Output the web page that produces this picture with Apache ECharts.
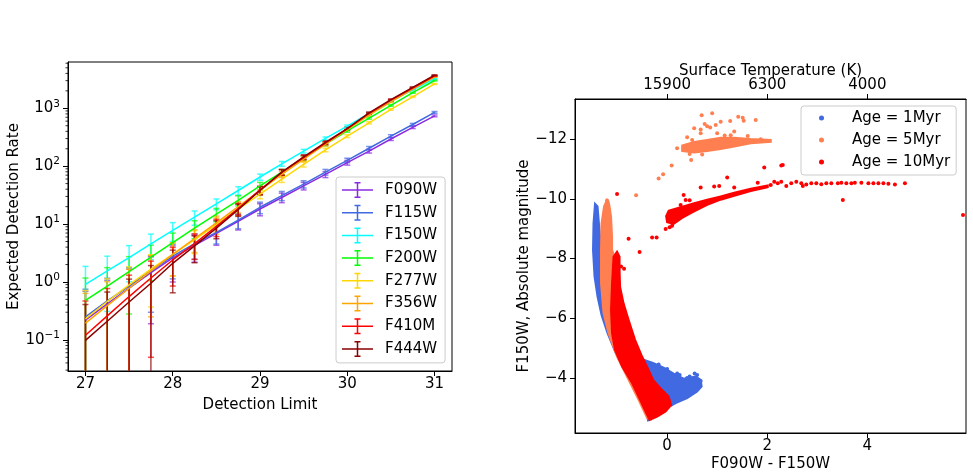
<!DOCTYPE html>
<html>
<head>
<meta charset="utf-8">
<script src="https://cdn.jsdelivr.net/npm/echarts@6/dist/echarts.min.js"></script>
<style>
  html, body { margin: 0; padding: 0; background: #fff; }
  #chart { width: 973px; height: 476px; }
</style>
</head>
<body>
<div id="chart"></div>
<script>
// ---------- left panel: detection rate vs detection limit ----------
const detectionLimits = [27, 27.25, 27.5, 27.75, 28, 28.25, 28.5, 28.75, 29, 29.25, 29.5, 29.75, 30, 30.25, 30.5, 30.75, 31];
const filterNames = ['F090W', 'F115W', 'F150W', 'F200W', 'F277W', 'F356W', 'F410M', 'F444W'];
const filterColors = ['#8a2be2', '#4169e1', '#00ffff', '#00ff00', '#ffd700', '#ffa500', '#ff0000', '#8b0000'];

// mean rate per filter
const meanF090W = [0.22, 0.42, 0.78, 1.45, 2.6, 4.3, 6.9, 11.2, 18.2, 28.8, 45.7, 72, 115, 182, 295, 468, 740];
const meanF115W = [0.25, 0.47, 0.85, 1.55, 2.8, 4.6, 7.2, 11.7, 19.5, 31, 49, 79, 126, 204, 331, 525, 850];
const meanF150W = [0.91, 1.55, 2.63, 4.57, 7.8, 13.2, 22.4, 38, 65, 110, 182, 302, 490, 813, 1320, 2090, 3240];
const meanF200W = [0.48, 0.85, 1.51, 2.69, 4.8, 8.5, 14.8, 25.7, 45.7, 79, 138, 240, 407, 676, 1120, 1860, 3020];
const meanF277W = [0.23, 0.46, 0.89, 1.66, 3.0, 5.4, 9.8, 18.2, 33, 60, 107, 191, 331, 562, 955, 1580, 2630];
const meanF356W = [0.195, 0.39, 0.78, 1.55, 3.0, 5.6, 10.5, 20, 38, 72, 132, 240, 427, 759, 1290, 2140, 3470];
const meanF410M = [0.12, 0.26, 0.56, 1.17, 2.4, 4.6, 9.1, 18.6, 39, 78, 141, 251, 447, 813, 1380, 2240, 3630];
const meanF444W = [0.098, 0.21, 0.45, 0.95, 2.1, 4.2, 8.5, 17.8, 38, 79, 145, 257, 447, 832, 1410, 2290, 3720];

// error (+/-) per filter
const errF090W = [0.47, 0.65, 0.88, 1.26, 1.6, 2.1, 2.6, 3.3, 4.3, 5.4, 6.8, 8.5, 10.7, 13.5, 17.2, 21.6, 27.2];
const errF115W = [0.5, 0.69, 0.92, 1.25, 1.67, 2.14, 2.68, 3.42, 4.4, 5.6, 7.0, 8.9, 11.2, 14.3, 18.2, 22.9, 29.2];
const errF150W = [0.95, 1.24, 1.62, 2.14, 2.79, 3.63, 4.73, 6.2, 8.1, 10.5, 13.5, 17.4, 22.1, 28.5, 36.3, 45.7, 56.9];
const errF200W = [0.69, 0.92, 1.23, 1.64, 2.19, 2.92, 3.85, 5.07, 6.76, 8.9, 11.7, 15.5, 20.2, 26.0, 33.5, 43.1, 55.0];
const errF277W = [0.48, 0.68, 0.94, 1.29, 1.73, 2.32, 3.13, 4.27, 5.74, 7.75, 10.3, 13.8, 18.2, 23.7, 30.9, 39.7, 51.3];
const errF356W = [0.44, 0.62, 0.88, 1.3, 1.73, 2.37, 3.24, 4.47, 6.16, 8.49, 11.5, 15.5, 20.7, 27.5, 35.9, 46.3, 58.9];
const errF410M = [0.35, 0.51, 0.75, 1.12, 1.55, 2.14, 3.02, 4.31, 6.24, 8.83, 11.9, 15.8, 21.1, 28.5, 37.1, 47.3, 60.2];
const errF444W = [0.31, 0.46, 0.67, 0.97, 1.45, 2.05, 2.92, 4.22, 6.16, 8.89, 12.0, 16.0, 21.1, 28.8, 37.5, 47.9, 61.0];

const filterMeans = [meanF090W, meanF115W, meanF150W, meanF200W, meanF277W, meanF356W, meanF410M, meanF444W];
const filterErrs = [errF090W, errF115W, errF150W, errF200W, errF277W, errF356W, errF410M, errF444W];

// ---------- right panel: colour-magnitude diagram ----------
const ageNames = ['Age = 1Myr', 'Age = 5Myr', 'Age = 10Myr'];
const ageColors = ['#4169e1', '#ff7f50', '#ff0000'];

// dense regions, outlined as [colour, magnitude]
const age1Band = [[-1.44, -9.83], [-1.47, -9.18], [-1.48, -8.29], [-1.45, -7.40], [-1.39, -6.73], [-1.31, -6.11],
  [-1.19, -5.50], [-1.04, -4.89], [-0.86, -4.27], [-0.67, -3.72], [-0.50, -3.16], [-0.40, -2.71], [-0.38, -2.58],
  [0.0, -3.00], [0.17, -3.16], [0.40, -3.33], [0.60, -3.55], [0.69, -3.72], [0.67, -3.94], [0.57, -4.05],
  [0.33, -3.98], [0.13, -4.15], [-0.07, -4.35], [-0.27, -4.50], [-0.47, -4.61], [-0.80, -5.17], [-1.07, -6.28],
  [-1.20, -7.40], [-1.34, -8.73], [-1.39, -9.74]];
const age5Band = [[-1.20, -9.96], [-1.26, -9.74], [-1.31, -9.18], [-1.32, -8.29], [-1.32, -7.17], [-1.27, -6.17],
  [-1.17, -5.50], [-1.00, -4.72], [-0.77, -3.94], [-0.57, -3.27], [-0.40, -2.66], [-0.33, -2.62], [-0.45, -3.27],
  [-0.60, -3.83], [-0.80, -4.72], [-1.00, -5.50], [-1.05, -6.28], [-1.06, -7.17], [-1.06, -8.10], [-1.10, -8.29],
  [-1.10, -8.73], [-1.12, -9.40], [-1.15, -9.74], [-1.17, -9.90]];
const age5Clump = [[0.30, -11.60], [0.54, -11.55], [0.80, -11.60], [1.07, -11.67], [1.34, -11.75], [1.67, -11.86],
  [2.07, -11.91], [2.07, -11.97], [1.67, -12.00], [1.34, -12.04], [1.07, -12.04], [0.80, -11.97], [0.54, -11.90],
  [0.30, -11.78]];
const age10Band = [[-1.00, -8.23], [-1.07, -8.06], [-1.10, -7.17], [-1.12, -6.28], [-1.10, -5.50], [-1.04, -4.94],
  [-0.90, -4.39], [-0.70, -3.83], [-0.54, -3.27], [-0.40, -2.77], [-0.35, -2.60], [-0.20, -2.71], [-0.03, -2.88],
  [0.08, -3.10], [0.03, -3.38], [-0.13, -3.65], [-0.28, -3.94], [-0.37, -4.27], [-0.50, -4.72], [-0.64, -5.28],
  [-0.77, -5.95], [-0.87, -6.50], [-0.94, -7.06], [-0.95, -7.62], [-0.95, -8.06]];
const age10Branch = [[0.03, -9.60], [0.27, -9.72], [0.54, -9.85], [0.80, -9.97], [1.07, -10.08], [1.34, -10.20],
  [1.67, -10.34], [2.01, -10.45], [2.01, -10.39], [1.67, -10.26], [1.34, -10.10], [1.07, -9.97], [0.80, -9.80],
  [0.54, -9.58], [0.30, -9.36], [0.13, -9.16], [0.0, -9.22], [-0.02, -9.42]];

// sparse stars
const age1Points = [[-0.27, -4.40], [-0.17, -4.45], [0.0, -4.30], [0.20, -4.15], [0.40, -4.00], [0.60, -4.10],
  [0.67, -3.90], [0.50, -3.55], [0.65, -3.75], [0.12, -3.90], [0.30, -3.90], [-0.35, -4.50], [0.45, -4.05],
  [0.25, -4.10], [0.55, -4.15]];
const age5Points = [[0.69, -12.80], [0.90, -12.86], [1.07, -12.58], [1.26, -12.60], [1.42, -12.75], [1.51, -12.71],
  [1.53, -12.61], [1.77, -12.64], [0.54, -12.36], [0.67, -12.32], [0.80, -12.43], [0.86, -12.39], [0.97, -12.47],
  [0.75, -12.50], [0.50, -11.97], [0.33, -11.67], [0.48, -11.30], [0.09, -11.11], [-0.08, -10.82], [-0.17, -10.68],
  [-0.62, -10.12], [-1.20, -9.94], [0.20, -11.69], [1.27, -12.13], [1.61, -12.10], [1.87, -11.99], [0.40, -12.06],
  [0.67, -12.19], [1.00, -12.19], [1.34, -12.25], [0.45, -11.50], [0.70, -11.48], [1.15, -12.12]];
const age10Points = [[2.21, -10.52], [2.28, -10.57], [2.38, -10.43], [2.48, -10.52], [2.58, -10.57], [2.68, -10.52],
  [2.71, -10.43], [2.78, -10.48], [2.88, -10.52], [2.98, -10.52], [3.08, -10.49], [3.18, -10.52], [3.28, -10.52],
  [3.41, -10.52], [3.48, -10.54], [3.58, -10.52], [3.68, -10.52], [3.75, -10.54], [3.88, -10.54], [4.02, -10.52],
  [4.12, -10.52], [4.22, -10.52], [4.32, -10.52], [4.42, -10.50], [4.55, -10.48], [4.75, -10.52], [1.94, -11.05],
  [2.28, -11.11], [2.31, -11.13], [3.51, -9.96], [5.91, -9.46], [1.20, -10.71], [0.94, -10.41], [0.67, -10.38],
  [1.04, -10.43], [1.34, -10.38], [1.81, -10.54], [2.07, -10.46], [2.14, -10.57], [0.33, -10.13], [0.37, -9.96],
  [0.27, -9.79], [-0.03, -8.99], [-0.30, -8.70], [-0.21, -8.70], [-0.77, -8.66], [-0.55, -8.22], [-1.00, -10.16],
  [-0.86, -7.66], [-0.92, -7.73], [0.10, -9.10], [0.05, -9.05], [0.45, -9.95]];

// top axis: surface temperature at given colour positions
const tempTickPos = [0, 2, 4];
const tempTickLabels = ['15900', '6300', '4000'];

// axis ranges
const rateMin = 0.029, rateMax = 6300;
const limitMin = 26.8, limitMax = 31.2;
const colourMin = -1.84, colourMax = 5.97;
const magMin = -13.34, magMax = -2.16;

const FONT = 'DejaVu Sans';
const minus = v => (v < 0 ? '\u2212' + (-v) : String(v));

// minor ticks of the log axis (2..9 x 10^k)
const minorTickValues = [];
for (let e = -2; e <= 3; e++) {
  for (let k = 2; k <= 9; k++) {
    const v = +(k * Math.pow(10, e)).toPrecision(3);
    if (v > rateMin && v < rateMax) minorTickValues.push(v);
  }
}

const chart = echarts.init(document.getElementById('chart'), null, { renderer: 'canvas' });

const axisCommon = {
  axisLine: { onZero: false, lineStyle: { color: '#000', width: 1 } },
  axisTick: { show: true, inside: false, length: 5, lineStyle: { color: '#000', width: 1 } },
  splitLine: { show: false },
  nameLocation: 'middle',
  nameMoveOverlap: false,
  nameTextStyle: { fontFamily: FONT, fontSize: 15, color: '#000' },
};
const labelCommon = { fontFamily: FONT, fontSize: 15, color: '#000', showMinLabel: false, showMaxLabel: false };

// error bar drawn as vertical line + caps
function errorBarRenderer(color) {
  return function (params, api) {
    const x = api.value(0), m = api.value(1), s = api.value(2);
    const cs = params.coordSys;
    const top = api.coord([x, m + s]);
    const low = m - s;
    const hasLow = low > 0;
    const bot = hasLow ? api.coord([x, low]) : [top[0], cs.y + cs.height + 5];
    const style = { stroke: color, lineWidth: 1.5, opacity: 0.7 };
    const children = [
      { type: 'line', shape: { x1: top[0], y1: top[1], x2: bot[0], y2: bot[1] }, style },
      { type: 'line', shape: { x1: top[0] - 3, y1: top[1], x2: top[0] + 3, y2: top[1] }, style },
    ];
    if (hasLow) {
      children.push({ type: 'line', shape: { x1: bot[0] - 3, y1: bot[1], x2: bot[0] + 3, y2: bot[1] }, style });
    }
    return { type: 'group', children };
  };
}

// filled outline for dense star regions
function bandRenderer(verts, color) {
  return function (params, api) {
    if (params.dataIndex !== 0) return null;
    const points = verts.map(p => api.coord(p));
    return {
      type: 'polygon',
      shape: { points },
      style: { fill: color, stroke: color, lineWidth: 2 },
    };
  };
}

const series = [];

// minor ticks on the log axis
series.push({
  name: 'minorTicks',
  type: 'custom',
  xAxisIndex: 0, yAxisIndex: 0,
  silent: true,
  clip: false,
  data: minorTickValues.map(v => [limitMin, v]),
  encode: { x: 0, y: 1 },
  renderItem: (params, api) => {
    const p = api.coord([api.value(0), api.value(1)]);
    const x0 = params.coordSys.x;
    return { type: 'line', shape: { x1: x0, y1: p[1], x2: x0 - 2.5, y2: p[1] }, style: { stroke: '#000', lineWidth: 0.8 } };
  },
  z: 1,
});

filterNames.forEach((name, i) => {
  const color = filterColors[i];
  series.push({
    name,
    type: 'line',
    xAxisIndex: 0, yAxisIndex: 0,
    data: detectionLimits.map((x, j) => [x, filterMeans[i][j]]),
    symbol: 'none',
    color,
    lineStyle: { color, width: 1.5 },
    itemStyle: { color },
    z: 2,
  });
  series.push({
    name,
    type: 'custom',
    xAxisIndex: 0, yAxisIndex: 0,
    clip: true,
    data: detectionLimits.map((x, j) => [x, filterMeans[i][j], filterErrs[i][j]]),
    encode: { x: 0, y: 1 },
    renderItem: errorBarRenderer(color),
    itemStyle: { color },
    z: 2,
  });
});

const ageBands = [[age1Band], [age5Band, age5Clump], [age10Band, age10Branch]];
const agePoints = [age1Points, age5Points, age10Points];
ageNames.forEach((name, i) => {
  const color = ageColors[i];
  ageBands[i].forEach(band => {
    series.push({
      name,
      type: 'custom',
      xAxisIndex: 1, yAxisIndex: 1,
      clip: true,
      data: band,
      encode: { x: 0, y: 1 },
      renderItem: bandRenderer(band, color),
      itemStyle: { color },
      z: 2,
    });
  });
  series.push({
    name,
    type: 'scatter',
    xAxisIndex: 1, yAxisIndex: 1,
    data: agePoints[i],
    symbol: 'circle',
    symbolSize: 4,
    itemStyle: { color, opacity: 1 },
    z: 2,
  });
});

const errorIcon = 'path://M0,7.25h31v1.5h-31z M14.75,0h1.5v16h-1.5z M12.5,0h6v1.5h-6z M12.5,14.5h6v1.5h-6z';

const option = {
  animation: false,
  backgroundColor: '#fff',
  textStyle: { fontFamily: FONT },
  grid: [
    { left: 68, top: 62, width: 384, height: 309, show: true, borderColor: '#000', borderWidth: 1, backgroundColor: 'transparent', outerBoundsMode: 'none' },
    { left: 575, top: 99, width: 391, height: 334, show: true, borderColor: '#000', borderWidth: 1, backgroundColor: 'transparent', outerBoundsMode: 'none' },
  ],
  legend: [
    {
      orient: 'vertical',
      left: 336, top: 177,
      padding: [5, 8, 6, 6],
      itemWidth: 31, itemHeight: 16, itemGap: 6.7,
      backgroundColor: 'rgba(255,255,255,0.8)',
      borderColor: '#cccccc', borderWidth: 1, borderRadius: 3,
      textStyle: { fontFamily: FONT, fontSize: 15, color: '#000', lineHeight: 16, padding: [0, 0, 0, 7] },
      data: filterNames.map(n => ({ name: n, icon: errorIcon })),
      selectedMode: false,
    },
    {
      orient: 'vertical',
      left: 801, top: 106,
      padding: [4, 6, 5, 18],
      itemWidth: 5, itemHeight: 5, itemGap: 6,
      backgroundColor: 'rgba(255,255,255,0.8)',
      borderColor: '#cccccc', borderWidth: 1, borderRadius: 3,
      textStyle: { fontFamily: FONT, fontSize: 15, color: '#000', lineHeight: 16, padding: [0, 0, 0, 23] },
      data: ageNames.map(n => ({ name: n, icon: 'circle' })),
      selectedMode: false,
    },
  ],
  xAxis: [
    Object.assign({}, axisCommon, {
      gridIndex: 0, type: 'value', min: limitMin, max: limitMax,
      name: 'Detection Limit', nameGap: 27,
      axisLabel: Object.assign({}, labelCommon, { margin: 6 }),
    }),
    Object.assign({}, axisCommon, {
      gridIndex: 1, type: 'value', min: colourMin, max: colourMax, position: 'bottom',
      name: 'F090W - F150W', nameGap: 24,
      axisLabel: Object.assign({}, labelCommon, { margin: 6, formatter: minus }),
    }),
    Object.assign({}, axisCommon, {
      gridIndex: 1, type: 'value', min: colourMin, max: colourMax, position: 'top',
      name: 'Surface Temperature (K)', nameGap: 20,
      axisLabel: Object.assign({}, labelCommon, {
        margin: 6,
        formatter: v => {
          const k = tempTickPos.indexOf(v);
          return k >= 0 ? tempTickLabels[k] : '';
        },
      }),
    }),
  ],
  yAxis: [
    Object.assign({}, axisCommon, {
      gridIndex: 0, type: 'log', logBase: 10, min: rateMin, max: rateMax,
      name: 'Expected Detection Rate', nameGap: 46,
      axisLabel: Object.assign({}, labelCommon, {
        margin: 8,
        formatter: v => {
          const e = Math.round(Math.log10(v));
          return '{b|10}{e|' + (e < 0 ? '\u2212' + (-e) : e) + '}';
        },
        rich: {
          b: { fontFamily: FONT, fontSize: 15, color: '#000' },
          e: { fontFamily: FONT, fontSize: 10.5, color: '#000', padding: [0, 0, 9, 0] },
        },
      }),
    }),
    Object.assign({}, axisCommon, {
      gridIndex: 1, type: 'value', min: magMin, max: magMax, inverse: true,
      name: 'F150W, Absolute magnitude', nameGap: 43,
      axisLabel: Object.assign({}, labelCommon, { margin: 8, formatter: minus }),
    }),
  ],
  series,
};

chart.setOption(option);
</script>
</body>
</html>
